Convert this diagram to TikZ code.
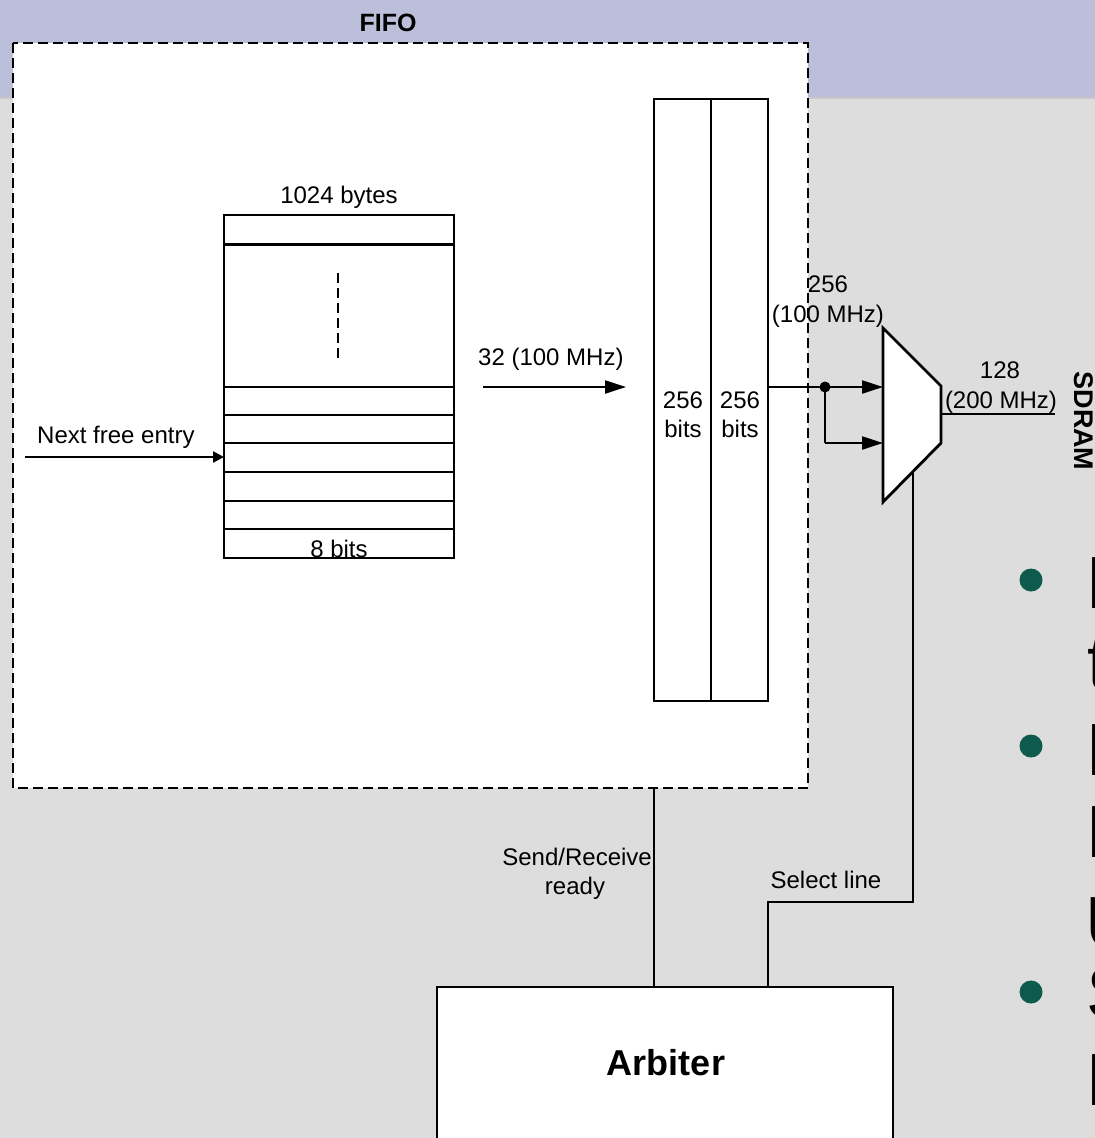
\documentclass[tikz,border=0pt]{standalone}
\usepackage{fontspec}
\setmainfont{Liberation Sans}
\usetikzlibrary{arrows.meta}
\definecolor{band}{RGB}{187,191,218}
\definecolor{bggray}{RGB}{221,221,221}
\definecolor{sepgray}{RGB}{200,200,200}
\definecolor{bulletgreen}{RGB}{14,90,77}
\tikzset{
  lbl/.style={inner sep=0pt, font=\fontsize{24}{29}\selectfont},
  boldlbl/.style={inner sep=0pt, font=\bfseries\fontsize{25}{30}\selectfont},
  wire/.style={line width=2.2pt},
  bigarrow/.style={line width=2.2pt, -{Triangle[length=21pt,width=13pt]}},
  smallarrow/.style={line width=2.2pt, -{Triangle[length=11pt,width=11pt]}},
  blockline/.style={line width=2.2pt},
  bigtext/.style={inner sep=0pt, anchor=base west, font=\fontsize{74}{80}\selectfont},
  bulletdot/.style={circle, fill=bulletgreen, minimum size=23pt, inner sep=0pt}
}
\begin{document}
\begin{tikzpicture}[x=1pt,y=-1pt]
\clip (0,0) rectangle (1095,1138);
% background
\fill[bggray] (0,0) rectangle (1095,1138);
\fill[band] (0,0) rectangle (1095,97);
\draw[sepgray, line width=2pt] (0,98) -- (1095,98);

% FIFO dashed box
\draw[line width=2.4pt, dash pattern=on 10pt off 5pt, fill=white] (13,43) rectangle (808,788);
\node[boldlbl, anchor=base] (fifolbl) at (388,31) {FIFO};

% memory block
\draw[blockline, fill=white] (224,215) rectangle (454,558);
\foreach \yy in {387,415,443,472,501,529} \draw[blockline] (224,\yy) -- (454,\yy);
\draw[line width=3pt] (224,244) -- (454,244);
\draw[line width=2.2pt, dash pattern=on 10pt off 5pt] (338,273) -- (338,358);
\coordinate (memleft) at (224,457);
\node[lbl, anchor=base] (bytes) at (339,203) {1024 bytes};
\node[lbl, anchor=base] (bits8) at (339,557) {8 bits};
\coordinate (nfstart) at (25,457);
\draw[smallarrow] (nfstart) -- (memleft);
\node[lbl, anchor=base west] (nfe) at (37,443) {Next free entry};

% 32 arrow
\coordinate (a32s) at (483,387);
\coordinate (a32e) at (626,387);
\draw[bigarrow] (a32s) -- (a32e);
\node[lbl, anchor=base west] (l32) at (478,365) {32 (100 MHz)};

% register block
\draw[blockline, fill=white] (654,99) rectangle (768,701);
\draw[blockline] (711,99) -- (711,701);
\node[lbl, anchor=base] (r1a) at (683,408) {256};
\node[lbl, anchor=base] (r1b) at (683,437) {bits};
\node[lbl, anchor=base] (r2a) at (740,408) {256};
\node[lbl, anchor=base] (r2b) at (740,437) {bits};

% mux
\coordinate (m1) at (883,328);
\coordinate (m2) at (941,386);
\coordinate (m3) at (941,443);
\coordinate (m4) at (883,502);
\draw[line width=2.8pt, fill=white, line join=miter] (m1) -- (m2) -- (m3) -- (m4) -- cycle;
\coordinate (regout) at (768,387);
\coordinate (dot) at (825,387);
\coordinate (in1) at (883,387);
\coordinate (in2) at (883,443);
\coordinate (dotdown) at (825,443);
\draw[wire] (regout) -- (dot);
\draw[bigarrow] (dot) -- (in1);
\draw[wire] (dot) -- (dotdown);
\draw[bigarrow] (dotdown) -- (in2);
\fill (dot) circle (5.5pt);
\node[lbl, anchor=base] (l256) at (828,292) {256};
\node[lbl, anchor=base] (l100) at (828,322) {(100 MHz)};

% output
\coordinate (mout) at (941,414);
\coordinate (oend) at (1055,414);
\draw[wire] (mout) -- (oend);
\node[lbl, anchor=base] (l128) at (1000,378) {128};
\node[lbl, anchor=base] (l200) at (1001,408) {(200 MHz)};
\node[inner sep=0pt, font=\bfseries\fontsize{27}{30}\selectfont, rotate=-90] (sdram) at (1084,421) {SDRAM};

% arbiter
\draw[blockline, fill=white] (437,987) rectangle (893,1160);
\node[inner sep=0pt, anchor=base, font=\bfseries\fontsize{36}{40}\selectfont] (arb) at (666,1075) {Arbiter};
\coordinate (srtop) at (654,788);
\coordinate (srbot) at (654,987);
\draw[wire] (srtop) -- (srbot);
\node[lbl, anchor=base east] (sr1) at (652,865) {Send/Receive};
\node[lbl, anchor=base] (sr2) at (575,894) {ready};
\coordinate (sl1) at (913,471.5);
\coordinate (sl2) at (913,902);
\coordinate (sl3) at (768,902);
\coordinate (sl4) at (768,987);
\draw[wire] (sl1) -- (sl2) -- (sl3) -- (sl4);
\node[lbl, anchor=base] (sll) at (826,888) {Select line};

% bullets (cut off at the right edge)
\node[bulletdot] (b1) at (1031,580) {};
\node[bulletdot] (b2) at (1031,746) {};
\node[bulletdot] (b3) at (1031,992) {};
\node[bigtext] (t1) at (1086.6,608) {B};
\node[bigtext] (t2) at (1087,688) {t};
\node[bigtext] (t3) at (1086.6,775) {B};
\node[bigtext] (t4) at (1086.6,857) {B};
\node[bigtext] (t5) at (1085,948) {U};
\node[bigtext] (t6) at (1086.5,1018) {S};
\node[bigtext] (t7) at (1086.6,1105) {B};
\end{tikzpicture}
\end{document}
